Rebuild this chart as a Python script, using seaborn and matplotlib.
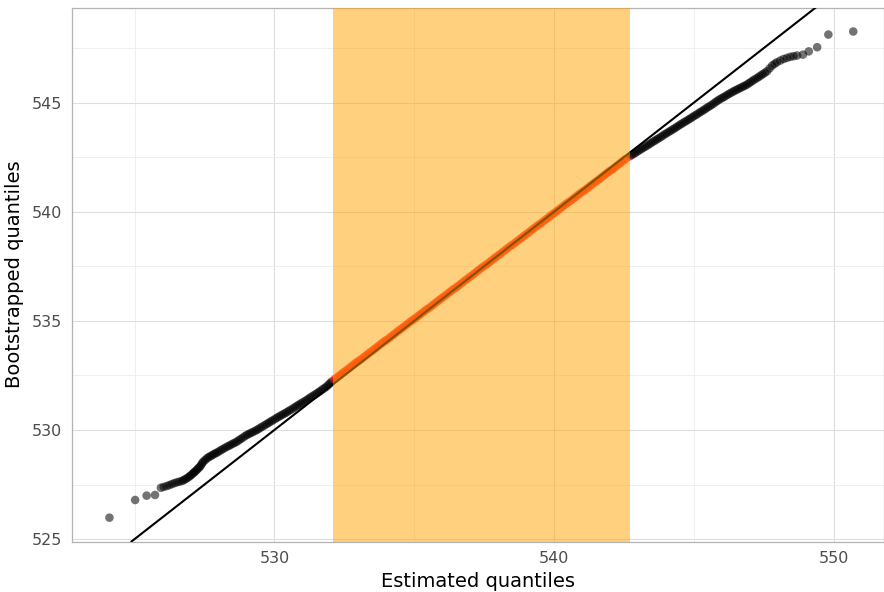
import numpy as np
import pandas as pd
import matplotlib
matplotlib.use("Agg")
import matplotlib.pyplot as plt
from matplotlib.ticker import MultipleLocator
import seaborn as sns

sns.set_style("whitegrid")
plt.rcParams["font.family"] = ["DejaVu Sans"]

# estimated (x) vs bootstrapped (y) quantiles
est_q = [
    524.10, 525.02, 525.43, 525.73,
    525.94, 526.04, 526.15, 526.24, 526.33, 526.42, 526.51, 526.60, 526.69, 526.75,
    526.81, 526.87, 526.93, 526.98, 527.03, 527.08, 527.12, 527.16, 527.21, 527.25,
    527.30, 527.34, 527.38, 527.42, 527.46, 527.52, 527.58, 527.64, 527.70, 527.76,
    527.82, 527.88, 527.94, 528.01, 528.08, 528.15, 528.22, 528.30, 528.37, 528.44,
    528.51, 528.58, 528.65, 528.72, 528.79, 528.86, 528.94, 529.01, 529.08, 529.15,
    529.22, 529.30, 529.37, 529.44, 529.51, 529.58, 529.66, 529.73, 529.80, 529.87,
    529.94, 530.02, 530.09, 530.16, 530.23, 530.30, 530.37, 530.44, 530.51, 530.58,
    530.66, 530.73, 530.80, 530.87, 530.94, 531.01, 531.09, 531.16, 531.23, 531.30,
    531.37, 531.45, 531.52, 531.59, 531.66, 531.73, 531.80, 531.87, 531.93, 531.99,
    532.05,
    532.15, 532.22, 532.30, 532.37, 532.45, 532.52, 532.60, 532.67, 532.75, 532.82,
    532.90, 532.97, 533.05, 533.12, 533.20, 533.27, 533.35, 533.42, 533.50, 533.57,
    533.65, 533.72, 533.80, 533.87, 533.95, 534.02, 534.10, 534.17, 534.25, 534.32,
    534.40, 534.47, 534.55, 534.62, 534.70, 534.77, 534.85, 534.92, 535.00, 535.07,
    535.15, 535.22, 535.30, 535.37, 535.45, 535.52, 535.60, 535.67, 535.75, 535.82,
    535.90, 535.97, 536.05, 536.12, 536.20, 536.27, 536.35, 536.42, 536.50, 536.57,
    536.65, 536.72, 536.80, 536.87, 536.95, 537.02, 537.10, 537.17, 537.25, 537.32,
    537.40, 537.47, 537.55, 537.62, 537.70, 537.77, 537.85, 537.92, 538.00, 538.07,
    538.15, 538.22, 538.30, 538.37, 538.45, 538.52, 538.60, 538.67, 538.75, 538.82,
    538.90, 538.97, 539.05, 539.12, 539.20, 539.27, 539.35, 539.42, 539.50, 539.57,
    539.65, 539.72, 539.80, 539.87, 539.95, 540.02, 540.10, 540.17, 540.25, 540.32,
    540.40, 540.47, 540.55, 540.62, 540.70, 540.77, 540.85, 540.92, 541.00, 541.07,
    541.15, 541.22, 541.30, 541.37, 541.45, 541.52, 541.60, 541.67, 541.75, 541.82,
    541.90, 541.97, 542.05, 542.12, 542.20, 542.27, 542.35, 542.42, 542.50, 542.57,
    542.70, 542.77, 542.84, 542.91, 542.98, 543.05, 543.12, 543.19, 543.26, 543.33,
    543.40, 543.47, 543.54, 543.61, 543.68, 543.75, 543.82, 543.89, 543.96, 544.03,
    544.10, 544.17, 544.24, 544.31, 544.38, 544.45, 544.52, 544.59, 544.66, 544.73,
    544.80, 544.87, 544.94, 545.01, 545.08, 545.15, 545.22, 545.29, 545.36, 545.43,
    545.50, 545.57, 545.64, 545.71, 545.78, 545.85, 545.92, 545.99, 546.06, 546.13,
    546.20, 546.27, 546.34, 546.41, 546.48, 546.55, 546.62, 546.69, 546.76, 546.83,
    546.90, 546.97, 547.04, 547.11, 547.18, 547.26, 547.33, 547.40, 547.47, 547.54,
    547.62, 547.71, 547.80, 547.89, 547.97, 548.09, 548.21, 548.33, 548.45, 548.57,
    548.69, 548.90, 549.11, 549.41, 549.81, 550.70,
]
boot_q = [
    525.98, 526.79, 526.99, 527.02,
    527.35, 527.39, 527.43, 527.47, 527.52, 527.56, 527.60, 527.63, 527.66, 527.70,
    527.74, 527.79, 527.84, 527.89, 527.94, 528.00, 528.05, 528.09, 528.15, 528.21,
    528.27, 528.32, 528.40, 528.48, 528.55, 528.62, 528.69, 528.75, 528.79, 528.83,
    528.88, 528.92, 528.96, 529.01, 529.07, 529.12, 529.17, 529.23, 529.27, 529.32,
    529.37, 529.41, 529.46, 529.52, 529.58, 529.64, 529.71, 529.77, 529.81, 529.86,
    529.90, 529.95, 530.00, 530.05, 530.11, 530.16, 530.22, 530.28, 530.33, 530.39,
    530.44, 530.50, 530.56, 530.61, 530.66, 530.71, 530.76, 530.81, 530.87, 530.92,
    530.98, 531.04, 531.10, 531.15, 531.21, 531.26, 531.32, 531.38, 531.44, 531.50,
    531.56, 531.62, 531.68, 531.74, 531.80, 531.87, 531.93, 531.99, 532.07, 532.14,
    532.22,
    532.32, 532.39, 532.47, 532.54, 532.62, 532.68, 532.76, 532.83, 532.91, 532.98,
    533.06, 533.13, 533.19, 533.26, 533.34, 533.41, 533.49, 533.56, 533.63, 533.70,
    533.78, 533.85, 533.93, 534.00, 534.08, 534.13, 534.21, 534.28, 534.36, 534.43,
    534.51, 534.58, 534.65, 534.72, 534.80, 534.87, 534.95, 535.02, 535.08, 535.15,
    535.23, 535.30, 535.38, 535.45, 535.53, 535.58, 535.66, 535.73, 535.81, 535.88,
    535.96, 536.03, 536.10, 536.17, 536.25, 536.32, 536.40, 536.47, 536.53, 536.60,
    536.68, 536.75, 536.83, 536.90, 536.98, 537.04, 537.12, 537.19, 537.27, 537.34,
    537.42, 537.49, 537.55, 537.62, 537.70, 537.77, 537.85, 537.92, 537.99, 538.06,
    538.14, 538.21, 538.29, 538.36, 538.44, 538.49, 538.57, 538.64, 538.72, 538.79,
    538.87, 538.94, 539.01, 539.08, 539.16, 539.23, 539.31, 539.38, 539.44, 539.51,
    539.59, 539.66, 539.74, 539.81, 539.89, 539.95, 540.03, 540.10, 540.18, 540.25,
    540.33, 540.40, 540.46, 540.53, 540.61, 540.68, 540.76, 540.83, 540.91, 540.96,
    541.04, 541.11, 541.19, 541.26, 541.34, 541.40, 541.48, 541.55, 541.63, 541.70,
    541.78, 541.85, 541.91, 541.98, 542.06, 542.13, 542.21, 542.28, 542.36, 542.43,
    542.53, 542.59, 542.65, 542.70, 542.76, 542.82, 542.87, 542.93, 542.98, 543.04,
    543.09, 543.15, 543.21, 543.26, 543.32, 543.37, 543.43, 543.49, 543.55, 543.60,
    543.66, 543.71, 543.77, 543.82, 543.88, 543.94, 544.00, 544.05, 544.11, 544.16,
    544.22, 544.27, 544.33, 544.39, 544.44, 544.50, 544.56, 544.61, 544.67, 544.73,
    544.79, 544.84, 544.90, 544.96, 545.03, 545.09, 545.15, 545.20, 545.25, 545.30,
    545.36, 545.41, 545.46, 545.51, 545.56, 545.60, 545.65, 545.69, 545.74, 545.78,
    545.83, 545.89, 545.95, 546.01, 546.07, 546.13, 546.19, 546.25, 546.31, 546.37,
    546.44, 546.57, 546.70, 546.78, 546.85, 546.93, 547.00, 547.05, 547.10, 547.13,
    547.16, 547.20, 547.35, 547.54, 548.12, 548.26,
]

# interval highlighted on the x axis
ci_low = 532.1
ci_high = 542.7

df = pd.DataFrame({"est": est_q, "boot": boot_q})
df["inside"] = np.where(
    (df["est"] >= ci_low) & (df["est"] <= ci_high), "in", "out"
)

fig = plt.figure(figsize=(8.84, 5.92), dpi=100)
ax = fig.add_axes([0.0814, 0.085, 0.9186, 0.9023])

sns.scatterplot(
    data=df,
    x="est",
    y="boot",
    hue="inside",
    palette={"in": "red", "out": "black"},
    alpha=0.55,
    s=38,
    linewidth=0,
    legend=False,
    zorder=2,
    ax=ax
)

ax.axline((530, 530), slope=1, color="black", lw=1.5, zorder=3)
ax.axvspan(ci_low, ci_high, color="orange", alpha=0.5, lw=0, zorder=4)

ax.set_xlim(522.76, 551.8)
ax.set_ylim(524.88, 549.36)

ax.xaxis.set_major_locator(MultipleLocator(10))
ax.xaxis.set_minor_locator(MultipleLocator(5))
ax.yaxis.set_major_locator(MultipleLocator(5))
ax.yaxis.set_minor_locator(MultipleLocator(2.5))

ax.grid(which="major", color="#dedede", lw=0.8)
ax.grid(which="minor", color="#ececec", lw=0.6)
ax.set_axisbelow(True)

for sp in ax.spines.values():
    sp.set_color("#b3b3b3")
    sp.set_linewidth(0.9)

ax.tick_params(which="major", length=4, width=0.8, color="#b3b3b3",
               labelsize=11.5, labelcolor="#4d4d4d", pad=3)
ax.tick_params(which="minor", length=0)

ax.set_xlabel("Estimated quantiles", fontsize=14, color="black", labelpad=4)
ax.set_ylabel("Bootstrapped quantiles", fontsize=14, color="black", labelpad=6)

plt.savefig("out.png", dpi=100)
